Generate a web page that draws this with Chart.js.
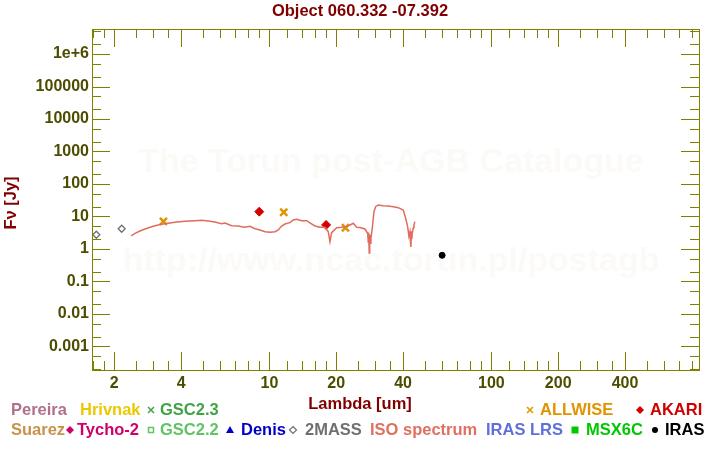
<!DOCTYPE html>
<html>
<head>
<meta charset="utf-8">
<script src="https://cdn.jsdelivr.net/npm/chart.js@4.4.1/dist/chart.umd.min.js"></script>
<style>
  html, body { margin: 0; padding: 0; background: #fff; }
  #sed { display: block; }
</style>
</head>
<body>
<canvas id="sed" width="720" height="450"></canvas>
<script>
/* data */

const titleText = 'Object 060.332 -07.392';

// 2MASS
const twoMassWl = [1.66, 2.16];
const twoMassFlux = [2.75, 4.2];

// ALLWISE
const allwiseWl = [3.33, 11.6, 22.0];
const allwiseFlux = [7.1, 13.5, 4.5];

// AKARI
const akariWl = [9.0, 18.0];
const akariFlux = [14.1, 5.5];

// IRAS
const irasWl = [60];
const irasFlux = [0.64];

// ISO spectrum
const isoWl = [2.38, 2.48, 2.61, 2.75, 2.90, 3.05, 3.27, 3.50, 3.75, 4.16, 4.62, 4.95, 5.30, 5.68,
  6.09, 6.31, 6.76, 7.24, 7.70, 8.17, 8.61, 9.07, 9.55, 10.06, 10.59, 10.96, 11.35, 11.75,
  12.38, 12.81, 13.27, 13.97, 14.72, 15.34, 16.04, 16.89, 17.79, 18.41, 18.74, 19.07, 20.09,
  21.16, 22.28, 23.86, 24.72, 25.57, 26.93, 27.70, 27.90, 28.00, 28.17, 28.30, 28.50, 28.67,
  29.06, 29.58, 30.10, 30.92, 32.57, 34.30, 36.14, 38.06, 40.08, 41.10, 41.95, 42.50, 42.96,
  43.20, 43.40, 43.60, 43.80, 44.00, 44.50, 44.80, 45.20];
const isoFlux = [2.51, 3.04, 3.58, 4.12, 4.65, 5.21, 5.75, 6.18, 6.63, 7.11, 7.43, 7.64, 7.27, 6.77,
  6.00, 6.31, 5.21, 5.10, 4.65, 5.00, 4.21, 3.84, 3.41, 3.26, 3.41, 3.84, 5.10, 5.88,
  6.45, 7.80, 8.20, 7.43, 7.43, 6.18, 5.10, 4.65, 4.65, 3.41, 1.68, 3.17, 4.52,
  4.65, 4.86, 6.18, 4.65, 4.60, 4.12, 3.04, 1.60, 3.20, 0.75, 2.80, 1.50, 2.13,
  4.33, 14.05, 20.0, 22.6, 21.5, 21.0, 20.0, 18.7, 15.8, 8.8, 4.86, 2.50, 3.41,
  1.60, 1.15, 3.50, 2.00, 3.04, 4.50, 5.48, 6.92];

// axes
const xMin = 1.587, xMax = 862;
const yMin = 1.89e-4, yMax = 5.88e6;
const xMajor = [2, 4, 10, 20, 40, 100, 200, 400];
const xMajorLabels = ['2', '4', '10', '20', '40', '100', '200', '400'];
const xMinor = [1.6, 1.8, 2.5, 3, 3.5, 5, 6, 7, 8, 9, 12, 14, 16, 18, 25, 30, 35,
  50, 60, 70, 80, 90, 120, 140, 160, 180, 250, 300, 350, 500, 600, 700, 800];
const yMajor = [0.001, 0.01, 0.1, 1, 10, 100, 1000, 10000, 100000, 1e6];
const yMajorLabels = ['0.001', '0.01', '0.1', '1', '10', '100', '1000', '10000', '100000', '1e+6'];
const yMinor = [2e-4, 5e-4, 2e-3, 5e-3, 0.02, 0.05, 0.2, 0.5, 2, 5, 20, 50, 200, 500,
  2000, 5000, 20000, 50000, 2e5, 5e5, 2e6, 5e6];

// legend
const legendRow1 = [
  { text: 'Pereira', color: '#b0708c', x: 11 },
  { text: 'Hrivnak', color: '#ecc800', x: 80 },
  { text: 'GSC2.3', color: '#40a444', x: 160, mark: 'cross', mx: 151 },
  { text: 'ALLWISE', color: '#e09400', x: 540, mark: 'cross', mx: 530 },
  { text: 'AKARI', color: '#d00000', x: 650, mark: 'diamond', mx: 640 }
];
const legendRow2 = [
  { text: 'Suarez', color: '#c8924c', x: 11 },
  { text: 'Tycho-2', color: '#d0006a', x: 77, mark: 'diamond', mx: 70 },
  { text: 'GSC2.2', color: '#60c464', x: 160, mark: 'square', mx: 151 },
  { text: 'Denis', color: '#0000c8', x: 241, mark: 'triangle', mx: 230 },
  { text: '2MASS', color: '#707070', x: 305, mark: 'odiamond', mx: 293 },
  { text: 'ISO spectrum', color: '#e07060', x: 370 },
  { text: 'IRAS LRS', color: '#6070d8', x: 486 },
  { text: 'MSX6C', color: '#00c800', x: 586, mark: 'fsquare', mx: 575 },
  { text: 'IRAS', color: '#000000', x: 665, mark: 'circle', mx: 655 }
];

/* helpers */

const axisColor = '#808000';
const tickTextColor = '#4d4d00';
const titleColor = '#800000';
const FONT = '"Liberation Sans", Arial, Helvetica, sans-serif';

const toPoints = (xs, ys) => xs.map((x, i) => ({ x: x, y: ys[i] }));

function drawMark(ctx, type, x, y, color) {
  ctx.save();
  ctx.fillStyle = color;
  ctx.strokeStyle = color;
  ctx.lineWidth = 1.5;
  ctx.beginPath();
  if (type === 'cross') {
    ctx.moveTo(x - 3, y - 3); ctx.lineTo(x + 3, y + 3);
    ctx.moveTo(x + 3, y - 3); ctx.lineTo(x - 3, y + 3);
    ctx.stroke();
  } else if (type === 'diamond') {
    ctx.moveTo(x, y - 4); ctx.lineTo(x + 4, y); ctx.lineTo(x, y + 4); ctx.lineTo(x - 4, y);
    ctx.closePath(); ctx.fill();
  } else if (type === 'odiamond') {
    ctx.lineWidth = 1.2;
    ctx.moveTo(x, y - 3.5); ctx.lineTo(x + 3.5, y); ctx.lineTo(x, y + 3.5); ctx.lineTo(x - 3.5, y);
    ctx.closePath(); ctx.stroke();
  } else if (type === 'square') {
    ctx.rect(x - 2.5, y - 2.5, 5, 5); ctx.stroke();
  } else if (type === 'fsquare') {
    ctx.rect(x - 3.5, y - 3.5, 7, 7); ctx.fill();
  } else if (type === 'triangle') {
    ctx.moveTo(x, y - 4); ctx.lineTo(x + 4, y + 3); ctx.lineTo(x - 4, y + 3);
    ctx.closePath(); ctx.fill();
  } else if (type === 'circle') {
    ctx.arc(x, y, 3, 0, Math.PI * 2); ctx.fill();
  }
  ctx.restore();
}

/* frame, inward ticks, texts */

const decorPlugin = {
  id: 'decor',
  beforeDatasetsDraw(chart) {
    const { ctx } = chart;
    // faint watermark
    ctx.save();
    ctx.fillStyle = '#fcfaf7';
    ctx.font = 'bold 34px ' + FONT;
    ctx.textAlign = 'center';
    ctx.textBaseline = 'middle';
    ctx.fillText('The Torun post-AGB Catalogue', 391, 163);
    ctx.fillText('http://www.ncac.torun.pl/postagb', 391, 262);
    ctx.restore();
  },
  afterDraw(chart) {
    const { ctx, chartArea: a } = chart;
    const xs = chart.scales.x, ys = chart.scales.y;
    ctx.save();
    ctx.strokeStyle = axisColor;
    ctx.lineWidth = 1;
    ctx.strokeRect(Math.round(a.left) + 0.5, Math.round(a.top) + 0.5,
      Math.round(a.right - a.left), Math.round(a.bottom - a.top));

    ctx.beginPath();
    xs.ticks.forEach(t => {
      const len = xMajor.includes(t.value) ? 18 : 9;
      const px = Math.round(xs.getPixelForValue(t.value)) + 0.5;
      ctx.moveTo(px, a.bottom); ctx.lineTo(px, a.bottom - len);
      ctx.moveTo(px, a.top); ctx.lineTo(px, a.top + len);
    });
    ys.ticks.forEach(t => {
      const len = yMajor.includes(t.value) ? 18 : 9;
      const py = Math.round(ys.getPixelForValue(t.value)) + 0.5;
      ctx.moveTo(a.left, py); ctx.lineTo(a.left + len, py);
      ctx.moveTo(a.right, py); ctx.lineTo(a.right - len, py);
    });
    ctx.stroke();

    // title and axis titles
    ctx.font = 'bold 16.5px ' + FONT;
    ctx.fillStyle = titleColor;
    ctx.textAlign = 'center';
    ctx.textBaseline = 'middle';
    ctx.fillText(titleText, 360, 11);
    ctx.fillText('Lambda [um]', 360, 404);
    ctx.save();
    ctx.translate(11, 203);
    ctx.rotate(-Math.PI / 2);
    ctx.fillText('F\u03bd [Jy]', 0, 0);
    ctx.restore();

    // legend
    ctx.textAlign = 'left';
    const drawRow = (items, y) => items.forEach(it => {
      ctx.fillStyle = it.color;
      ctx.fillText(it.text, it.x, y);
      if (it.mark) drawMark(ctx, it.mark, it.mx, y, it.color);
    });
    drawRow(legendRow1, 410);
    drawRow(legendRow2, 430);
    ctx.restore();
  }
};

/* chart */

const tickFont = { family: FONT, size: 16, weight: 'bold' };

const sedChart = new Chart(document.getElementById('sed').getContext('2d'), {
  type: 'scatter',
  data: {
    datasets: [
      {
        label: 'ISO spectrum',
        data: toPoints(isoWl, isoFlux),
        showLine: true,
        borderColor: '#e06c5c',
        borderWidth: 1.5,
        pointRadius: 0,
        tension: 0
      },
      {
        label: '2MASS',
        data: toPoints(twoMassWl, twoMassFlux),
        pointStyle: 'rectRot',
        pointRadius: 3.5,
        borderColor: '#707070',
        backgroundColor: 'rgba(255,255,255,0)',
        borderWidth: 1.3
      },
      {
        label: 'ALLWISE',
        data: toPoints(allwiseWl, allwiseFlux),
        pointStyle: 'crossRot',
        pointRadius: 5,
        borderColor: '#e09400',
        borderWidth: 2.5
      },
      {
        label: 'AKARI',
        data: toPoints(akariWl, akariFlux),
        pointStyle: 'rectRot',
        pointRadius: 4.5,
        borderColor: '#d00000',
        backgroundColor: '#d00000',
        borderWidth: 1
      },
      {
        label: 'IRAS',
        data: toPoints(irasWl, irasFlux),
        pointStyle: 'circle',
        pointRadius: 3,
        borderColor: '#000',
        backgroundColor: '#000',
        borderWidth: 1
      }
    ]
  },
  options: {
    responsive: false,
    animation: false,
    devicePixelRatio: 1,
    layout: { padding: { top: 29, right: 21, left: 0, bottom: 0 } },
    plugins: {
      legend: { display: false },
      tooltip: { enabled: false },
      title: { display: false }
    },
    scales: {
      x: {
        type: 'logarithmic',
        min: xMin,
        max: xMax,
        afterBuildTicks: s => {
          s.ticks = xMajor.concat(xMinor).sort((p, q) => p - q).map(v => ({ value: v }));
        },
        afterFit: s => { s.height = 80; },
        grid: { display: false, drawTicks: false },
        border: { display: false },
        ticks: {
          autoSkip: false,
          maxRotation: 0,
          padding: 4,
          color: tickTextColor,
          font: tickFont,
          callback: v => {
            const i = xMajor.indexOf(v);
            return i >= 0 ? xMajorLabels[i] : '';
          }
        }
      },
      y: {
        type: 'logarithmic',
        min: yMin,
        max: yMax,
        afterBuildTicks: s => {
          s.ticks = yMajor.concat(yMinor).sort((p, q) => p - q).map(v => ({ value: v }));
        },
        afterFit: s => { s.width = 92; },
        grid: { display: false, drawTicks: false },
        border: { display: false },
        ticks: {
          autoSkip: false,
          padding: 3,
          color: tickTextColor,
          font: tickFont,
          callback: v => {
            const i = yMajor.indexOf(v);
            return i >= 0 ? yMajorLabels[i] : '';
          }
        }
      }
    }
  },
  plugins: [decorPlugin]
});
</script>
</body>
</html>
